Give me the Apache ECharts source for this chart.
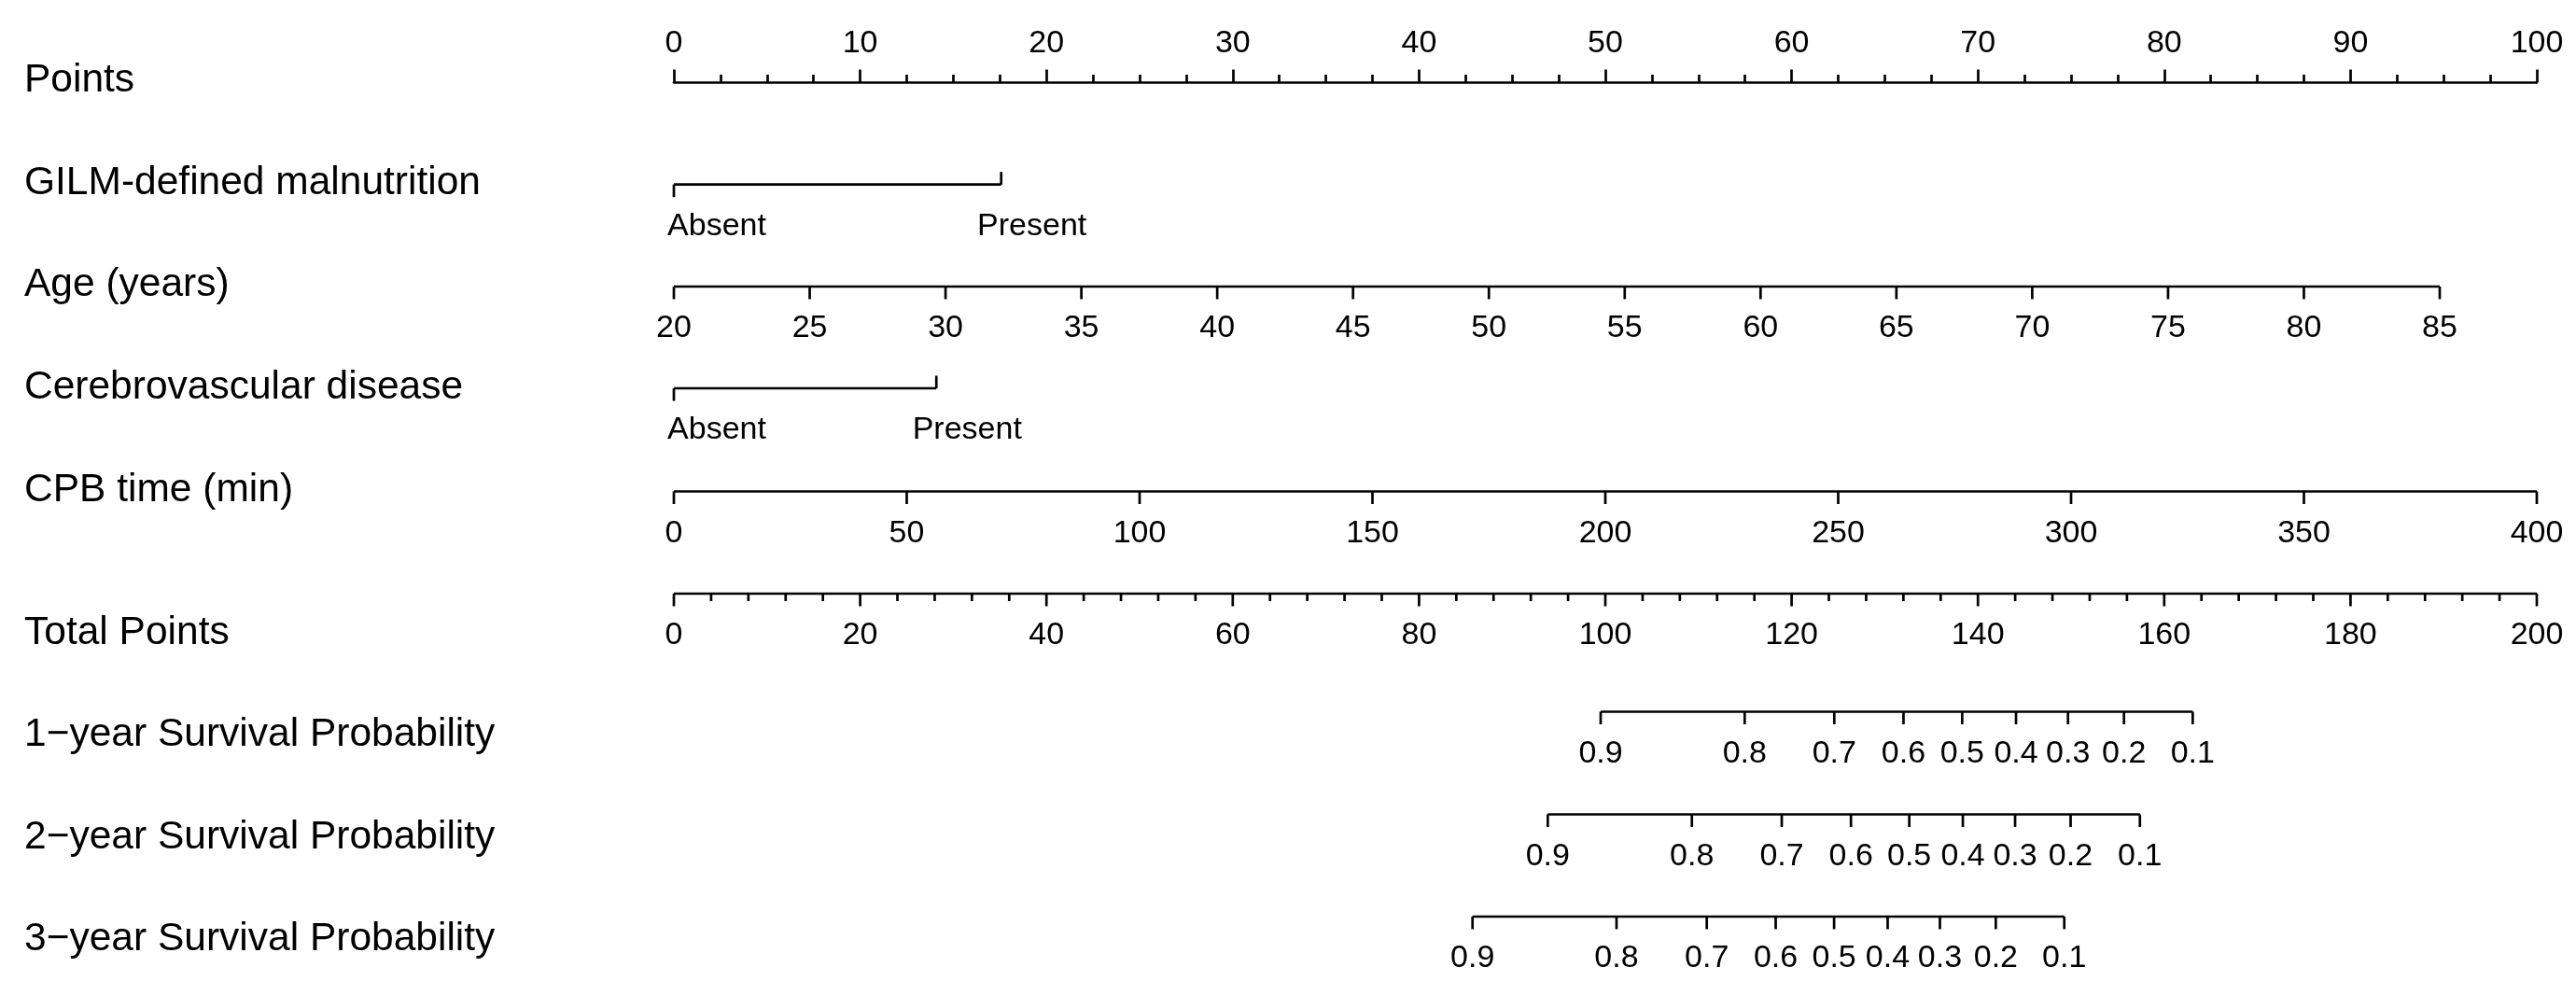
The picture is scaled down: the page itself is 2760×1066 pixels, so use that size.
<!DOCTYPE html>
<html>
<head>
<meta charset="utf-8">
<title>Nomogram</title>
<script src="https://cdn.jsdelivr.net/npm/echarts@6/dist/echarts.min.js"></script>
<style>
  html, body { margin: 0; padding: 0; background: #fff; }
  #nomogram { width: 2760px; height: 1066px; }
</style>
</head>
<body>
<div id="nomogram"></div>
<script>
// ---- data ----
// points scale on top
const pointTicks = [0, 10, 20, 30, 40, 50, 60, 70, 80, 90, 100]

// categorical predictors: points given to each level
const levels = ['Absent', 'Present']
const gilmPoints = [0, 17.57]
const cerebPoints = [0, 14.09]

// age in years, 85 years is worth ~94.8 points
const ageTicks = [20, 25, 30, 35, 40, 45, 50, 55, 60, 65, 70, 75, 80, 85]
const agePointsAtMax = 94.79

// CPB time in minutes (400 min = 100 points)
const cpbTicks = [0, 50, 100, 150, 200, 250, 300, 350, 400]

// total points scale
const totalTicks = [0, 20, 40, 60, 80, 100, 120, 140, 160, 180, 200]

// survival probabilities and where they fall on total points
const survLabels = ['0.9', '0.8', '0.7', '0.6', '0.5', '0.4', '0.3', '0.2', '0.1']
const surv1Total = [99.50, 114.96, 124.58, 132.01, 138.31, 144.09, 149.67, 155.68, 163.06]
const surv2Total = [93.82, 109.29, 118.94, 126.37, 132.63, 138.38, 143.99, 149.95, 157.39]
const surv3Total = [85.74, 101.20, 110.89, 118.29, 124.56, 130.31, 135.92, 141.92, 149.27]

const rowTitles = [
  'Points',
  'GILM-defined malnutrition',
  'Age (years)',
  'Cerebrovascular disease',
  'CPB time (min)',
  'Total Points',
  '1\u2212year Survival Probability',
  '2\u2212year Survival Probability',
  '3\u2212year Survival Probability'
]

// ---- layout ----
const FONT = '"Liberation Sans", Arial, Helvetica, sans-serif'
const LABEL_SIZE = 34
const TITLE_SIZE = 42.5
const LINE_W = 2.7
const TICK = 13.5
const MINOR = 8
const LABEL_GAP = 45
// y of each axis line, in pixels
const rowY = [88, 197.7, 307, 416, 526.5, 636, 762.5, 872.5, 982]
// y of the row titles
const titleY = [86, 196, 305, 415, 525, 678, 787, 897, 1006]
// categorical labels sit a bit to the right of their tick
const levelShift = [46, 33]

const lineStyle = { stroke: '#000', lineWidth: LINE_W }

// one nomogram row drawn on the given axis
function axisRow (axisIndex, y, values, labels, opt) {
  opt = opt || {}
  return {
    type: 'custom',
    xAxisIndex: axisIndex,
    yAxisIndex: 0,
    silent: true,
    clip: false,
    data: values.map(v => [v, y]),
    renderItem: function (params, api) {
      const i = params.dataIndex
      const p = api.coord([api.value(0), api.value(1)])
      const children = []
      if (i === 0) {
        const a = api.coord([values[0], y])
        const b = api.coord([values[values.length - 1], y])
        children.push({ type: 'line', shape: { x1: a[0], y1: a[1], x2: b[0], y2: b[1] }, style: lineStyle })
      }
      // minor ticks between this tick and the next one
      if (opt.minor && i < values.length - 1) {
        const step = (values[i + 1] - values[i]) / opt.minor
        for (let k = 1; k < opt.minor; k++) {
          const m = api.coord([values[i] + k * step, y])
          children.push({ type: 'line', shape: { x1: m[0], y1: m[1], x2: m[0], y2: m[1] + MINOR }, style: lineStyle })
        }
      }
      const up = opt.up && opt.up[i]
      children.push({
        type: 'line',
        shape: { x1: p[0], y1: p[1], x2: p[0], y2: p[1] + (up ? -TICK : TICK) },
        style: lineStyle
      })
      children.push({
        type: 'text',
        x: p[0] + (opt.shift ? opt.shift[i] : 0),
        y: p[1] + LABEL_GAP,
        style: {
          text: labels[i],
          fill: '#000',
          font: LABEL_SIZE + 'px ' + FONT,
          align: 'center',
          verticalAlign: 'middle'
        }
      })
      return { type: 'group', children: children }
    }
  }
}

let myChart = echarts.init(document.getElementById('nomogram'), null, { renderer: 'canvas' })

myChart.setOption({
  backgroundColor: '#fff',
  animation: false,
  grid: { left: 722, right: 42, top: 88, bottom: 0 },
  xAxis: [
    { // Points
      type: 'value',
      position: 'top',
      min: 0,
      max: 100,
      interval: 10,
      axisLine: { show: true, lineStyle: { color: '#000', width: LINE_W } },
      axisTick: { show: true, length: TICK, lineStyle: { color: '#000', width: LINE_W } },
      minorTick: { show: true, splitNumber: 4, length: MINOR, lineStyle: { color: '#000', width: LINE_W } },
      axisLabel: {
        show: true,
        margin: 24,
        color: '#000',
        fontSize: LABEL_SIZE,
        fontFamily: FONT,
        customValues: pointTicks
      },
      splitLine: { show: false }
    },
    { // age scale, hidden
      type: 'value',
      show: false,
      min: ageTicks[0],
      max: ageTicks[0] + (ageTicks[ageTicks.length - 1] - ageTicks[0]) * 100 / agePointsAtMax
    },
    { // CPB scale, hidden
      type: 'value',
      show: false,
      min: cpbTicks[0],
      max: cpbTicks[cpbTicks.length - 1]
    },
    { // total points scale, hidden
      type: 'value',
      show: false,
      min: totalTicks[0],
      max: totalTicks[totalTicks.length - 1]
    }
  ],
  yAxis: { type: 'value', show: false, min: 88, max: 1066, inverse: true },
  graphic: rowTitles.map((t, i) => ({
    type: 'text',
    x: 26,
    y: titleY[i],
    silent: true,
    style: { text: t, fill: '#000', font: TITLE_SIZE + 'px ' + FONT, verticalAlign: 'middle' }
  })),
  series: [
    axisRow(0, rowY[1], gilmPoints, levels, { up: [false, true], shift: levelShift }),
    axisRow(1, rowY[2], ageTicks, ageTicks.map(String)),
    axisRow(0, rowY[3], cerebPoints, levels, { up: [false, true], shift: levelShift }),
    axisRow(2, rowY[4], cpbTicks, cpbTicks.map(String)),
    axisRow(3, rowY[5], totalTicks, totalTicks.map(String), { minor: 5 }),
    axisRow(3, rowY[6], surv1Total, survLabels),
    axisRow(3, rowY[7], surv2Total, survLabels),
    axisRow(3, rowY[8], surv3Total, survLabels)
  ]
})
</script>
</body>
</html>
